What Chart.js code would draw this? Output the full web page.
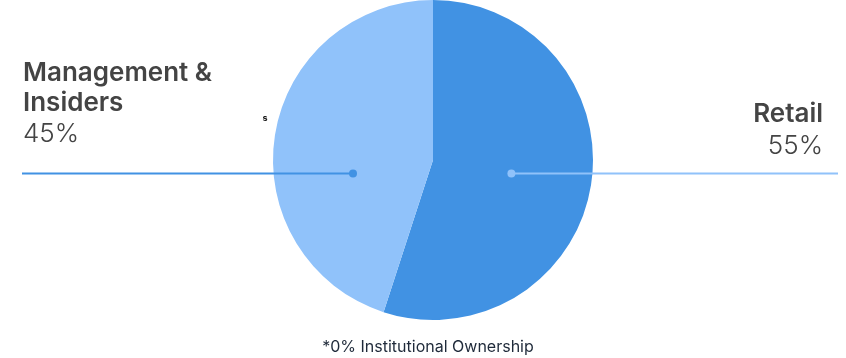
<!DOCTYPE html>
<html>
<head>
<meta charset="utf-8">
<script src="https://cdn.jsdelivr.net/npm/chart.js@4"></script>
<style>
  html, body { margin: 0; padding: 0; background: #fff; }
  #wrap { width: 846px; height: 358px; position: relative; }
</style>
</head>
<body>
<div id="wrap"><canvas id="ownership"></canvas></div>
<script>
// data
const labels = ["Retail", "Management & Insiders"];
const shares = [55, 45];
const colors = ["#4192e3", "#90c2fa"];
const footnote = "*0% Institutional Ownership";

const FONT = "Inter, 'Open Sans', sans-serif";

// labels with leader lines, drawn after the pie
const calloutPlugin = {
  id: "callouts",
  afterDraw(chart) {
    const ctx = chart.ctx;
    const arc = chart.getDatasetMeta(0).data[0];
    const cx = arc.x, cy = arc.y, r = arc.outerRadius;
    const lineY = cy + 13.5;
    ctx.save();

    // Management & Insiders (left)
    ctx.strokeStyle = colors[0];
    ctx.fillStyle = colors[0];
    ctx.lineWidth = 2;
    ctx.beginPath();
    ctx.moveTo(22, lineY);
    ctx.lineTo(cx - r * 0.5, lineY);
    ctx.stroke();
    ctx.beginPath();
    ctx.arc(cx - r * 0.5, lineY, 4, 0, Math.PI * 2);
    ctx.fill();

    // Retail (right)
    ctx.strokeStyle = colors[1];
    ctx.fillStyle = colors[1];
    ctx.beginPath();
    ctx.moveTo(cx + r * 0.49, lineY);
    ctx.lineTo(838, lineY);
    ctx.stroke();
    ctx.beginPath();
    ctx.arc(cx + r * 0.49, lineY, 4, 0, Math.PI * 2);
    ctx.fill();

    ctx.fillStyle = "#444444";
    ctx.textBaseline = "alphabetic";
    ctx.textAlign = "left";
    ctx.font = "600 26px " + FONT;
    ctx.fillText("Management &", 23, 81);
    ctx.fillText("Insiders", 23, 111);
    ctx.font = "300 26px " + FONT;
    ctx.fillText(shares[1] + "%", 23, 142);

    ctx.textAlign = "right";
    ctx.font = "600 26px " + FONT;
    ctx.fillText(labels[0], 823, 122);
    ctx.font = "300 26px " + FONT;
    ctx.fillText(shares[0] + "%", 823, 154);

    // stray tick glyph next to the pie
    ctx.fillStyle = "#222";
    ctx.font = "bold 9px " + FONT;
    ctx.textAlign = "center";
    ctx.fillText("s", 265, 121);

    ctx.fillStyle = "#1f2a3a";
    ctx.font = "16px " + FONT;
    ctx.fillText(footnote, 428, 352);
    ctx.restore();
  }
};

new Chart(document.getElementById("ownership"), {
  type: "pie",
  data: {
    labels: labels,
    datasets: [{
      data: shares,
      backgroundColor: colors,
      borderWidth: 0
    }]
  },
  options: {
    responsive: true,
    maintainAspectRatio: false,
    animation: false,
    layout: { padding: { left: 20, right: 0, top: 0, bottom: 38 } },
    plugins: {
      legend: { display: false },
      tooltip: { enabled: false }
    }
  },
  plugins: [calloutPlugin]
});
</script>
</body>
</html>
